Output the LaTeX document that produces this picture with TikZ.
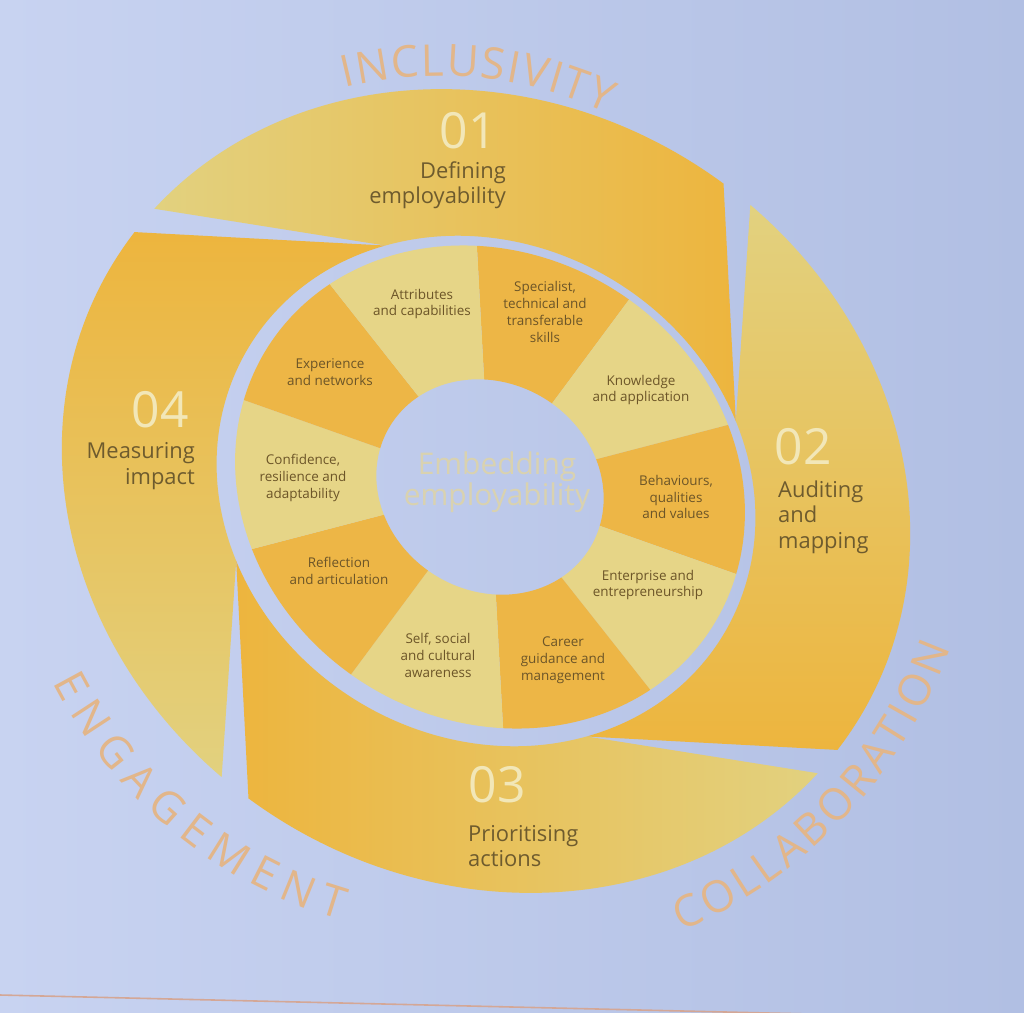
\documentclass[tikz,border=0pt]{standalone}
\usepackage{fontspec}
\setmainfont{Open Sans}
\usetikzlibrary{decorations.text}

\definecolor{bgleft}{HTML}{C8D3F1}
\definecolor{bgright}{HTML}{B1BFE3}
\definecolor{bladelight}{HTML}{E2D17F}
\definecolor{bladeorange}{HTML}{EDB53E}
\definecolor{petalpale}{HTML}{E6D587}
\definecolor{petalorange}{HTML}{EDB646}
\definecolor{labelink}{HTML}{6E5B2E}
\definecolor{petalink}{HTML}{6C5528}
\definecolor{numink}{HTML}{F2E7B8}
\definecolor{themeink}{HTML}{E2B68A}
\definecolor{hubink}{HTML}{D9D2B0}
\definecolor{ruleink}{HTML}{D4A796}

\newcommand\themefont{\fontsize{44}{44}\selectfont}

\begin{document}
\begin{tikzpicture}[x=1bp,y=1bp,
  steplabel/.style={font=\fontsize{22}{25.5}\selectfont, text=labelink, inner sep=0},
  stepnum/.style={font=\fontsize{50}{50}\selectfont, text=numink, inner sep=0},
  petal/.style={font=\fontsize{13.5}{17}\selectfont, text=petalink, align=center, inner sep=0},
  hub/.style={font=\fontsize{30}{31}\selectfont, text=hubink, align=center, inner sep=0},
  themeword/.style={decorate, decoration={text along path, text align=fit to path, text color=themeink}},
  % outer ring geometry (unit circle of radius 1000 seen in perspective)
  ringview/.style={cm={0.4236,-0.0218,-0.0218,0.4013,(#1)}}]

% slide background
\shade[left color=bgleft, right color=bgright] (0,0) rectangle (1024,-1013);
\useasboundingbox (0,0) rectangle (1024,-1013);

% thin rule near the lower edge of the slide
\draw[ruleink, line width=1.6] (0,-995) -- (1024,-1019);

% four outer blades, each light at its start and orange at its end
\begin{scope}[ringview={486,-491}]
  % 01 (top)
  \shade[left color=bladelight, right color=bladeorange]
    (19:635) -- (53:1000) arc[start angle=53, end angle=138.5, radius=1000]
    -- (109:635) arc[start angle=109, end angle=19, radius=635] -- cycle;
  % 02 (right)
  \shade[top color=bladelight, bottom color=bladeorange]
    (-71:635) -- (-37:1000) arc[start angle=-37, end angle=48.5, radius=1000]
    -- (19:635) arc[start angle=19, end angle=-71, radius=635] -- cycle;
  % 03 (bottom)
  \shade[left color=bladeorange, right color=bladelight]
    (-161:635) -- (-127:1000) arc[start angle=-127, end angle=-41.5, radius=1000]
    -- (-71:635) arc[start angle=-71, end angle=-161, radius=635] -- cycle;
  % 04 (left)
  \shade[top color=bladeorange, bottom color=bladelight]
    (109:635) -- (143:1000) arc[start angle=143, end angle=228.5, radius=1000]
    -- (199:635) arc[start angle=199, end angle=109, radius=635] -- cycle;
\end{scope}

% inner ring of ten petals around the hub
\begin{scope}[ringview={490,-487}]
  \foreach \a/\c in {90/petalorange, 54/petalpale, 18/petalorange, -18/petalpale,
                     -54/petalorange, -90/petalpale, -126/petalorange, -162/petalpale,
                     162/petalorange, 126/petalpale}
    \fill[\c] (\a:268) -- (\a:601) arc[start angle=\a, end angle=\a-36, radius=601]
      -- (\a-36:268) arc[start angle=\a-36, end angle=\a, radius=268] -- cycle;
\end{scope}

% hub
\node[hub] (hubtext) at (497,-482) {Embedding\\employability};

% petal labels
\node[petal] (attr)  at (422,-304) {Attributes\\and capabilities};
\node[petal] (spec)  at (545,-312) {Specialist,\\technical and\\transferable\\skills};
\node[petal] (know)  at (641,-390) {Knowledge\\and application};
\node[petal] (behav) at (676,-497) {Behaviours,\\qualities\\and values};
\node[petal] (enter) at (648,-585) {Enterprise and\\entrepreneurship};
\node[petal] (career) at (563,-660) {Career\\guidance and\\management};
\node[petal] (self)  at (438,-655) {Self, social\\and cultural\\awareness};
\node[petal] (refl)  at (339,-571) {Reflection\\and articulation};
\node[petal] (conf)  at (303,-478) {Confidence,\\resilience and\\adaptability};
\node[petal] (expe)  at (330,-372) {Experience\\and networks};

% blade numbers and titles
\node[stepnum] (n1) at (468,-131) {01};
\node[steplabel, anchor=east, align=right] (t1) at (506,-185) {Defining\\employability};
\node[stepnum] (n2) at (803,-447) {02};
\node[steplabel, anchor=west, align=left] (t2) at (778,-517) {Auditing\\and\\mapping};
\node[stepnum] (n3) at (497,-785) {03};
\node[steplabel, anchor=west, align=left] (t3) at (468,-846) {Prioritising\\actions};
\node[stepnum] (n4) at (160,-410) {04};
\node[steplabel, anchor=east, align=right] (t4) at (195,-466) {Measuring\\impact};

% themes set round the outside
\path[themeword, decoration={text={|\themefont|INCLUSIVITY}}]
  (440,-470) ++(104:394) arc[start angle=104, end angle=65, radius=394];
\path[themeword, decoration={text={|\themefont|ENGAGEMENT}}]
  (470,-470) ++(207:468) arc[start angle=207, end angle=254, radius=468];
\path[themeword, decoration={text={|\themefont|COLLABORATION}}]
  (490,-480) ++(-67:490) arc[start angle=-67, end angle=-20, radius=490];

\end{tikzpicture}
\end{document}
